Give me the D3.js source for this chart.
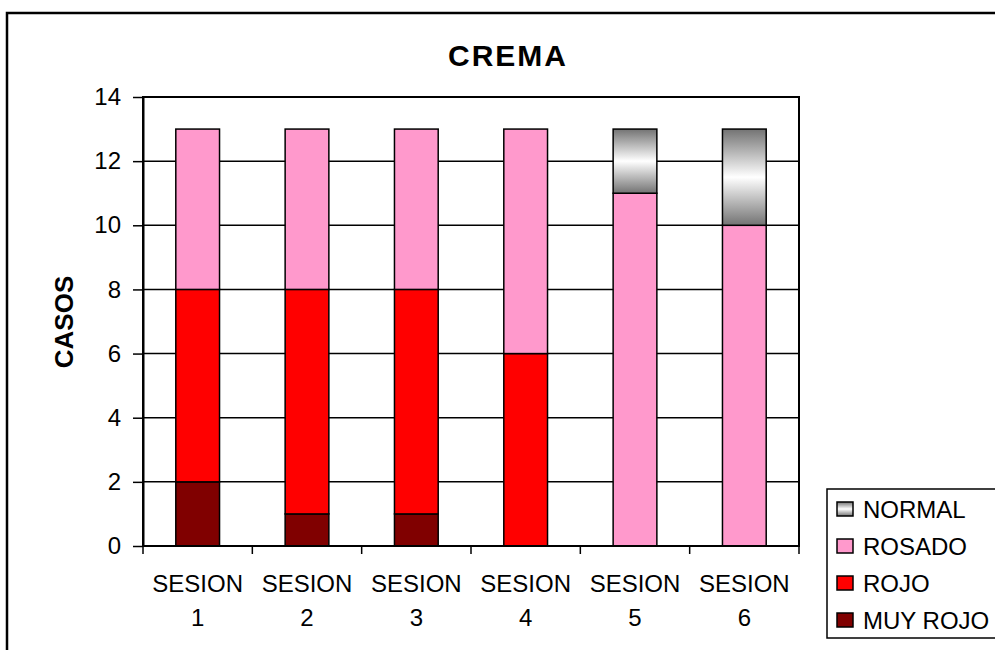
<!DOCTYPE html>
<html><head><meta charset="utf-8">
<script src="https://cdn.jsdelivr.net/npm/d3@7"></script>
<style>body{margin:0;background:#fff}svg{display:block;font-family:Arial,"Liberation Sans",sans-serif}</style>
</head><body>
<script>
const categories = ["SESION 1","SESION 2","SESION 3","SESION 4","SESION 5","SESION 6"];
const seriesNames = ["MUY ROJO","ROJO","ROSADO","NORMAL"];
const muyRojo = [2,1,1,0,0,0];
const rojo = [6,7,7,6,0,0];
const rosado = [5,5,5,7,11,10];
const normal = [0,0,0,0,2,3];
const yTicks = [0,2,4,6,8,10,12,14];
const title = "CREMA";
const yLabel = "CASOS";

const W = 995, H = 650;
const svg = d3.select("body").append("svg").attr("width", W).attr("height", H);
const defs = svg.append("defs");
const grad = defs.append("linearGradient").attr("id","gNormal").attr("x1",0).attr("y1",0).attr("x2",0).attr("y2",1);
grad.append("stop").attr("offset","0%").attr("stop-color","#737373");
grad.append("stop").attr("offset","50%").attr("stop-color","#ffffff");
grad.append("stop").attr("offset","100%").attr("stop-color","#737373");

const fills = {"MUY ROJO":"#800000","ROJO":"#ff0000","ROSADO":"#ff99cc","NORMAL":"url(#gNormal)"};
const seriesVals = {"MUY ROJO":muyRojo,"ROJO":rojo,"ROSADO":rosado,"NORMAL":normal};

// outer chart border
svg.append("rect").attr("x",7).attr("y",13).attr("width",1100).attr("height",800)
  .attr("fill","none").attr("stroke","#000").attr("stroke-width",2.5);

const m = {left:143, top:97, right:799, bottom:546};
const x = d3.scaleBand().domain(categories).range([m.left,m.right]).paddingInner(0.6).paddingOuter(0.3);
const xOuter = d3.scaleBand().domain(categories).range([m.left,m.right]);
const y = d3.scaleLinear().domain([0,14]).range([m.bottom,m.top]);

// gridlines
svg.append("g").selectAll("line").data(yTicks.filter(d=>d>0)).join("line")
  .attr("x1",m.left).attr("x2",m.right).attr("y1",d=>y(d)).attr("y2",d=>y(d))
  .attr("stroke","#000").attr("stroke-width",1.5);

// stacked bars
const table = categories.map((c,i)=>{const o={cat:c}; seriesNames.forEach(s=>o[s]=seriesVals[s][i]); return o;});
const stack = d3.stack().keys(seriesNames)(table);
stack.forEach(layer=>{
  svg.append("g").selectAll("rect").data(layer.filter(d=>d[1]-d[0]>0)).join("rect")
    .attr("x",d=>x(d.data.cat)).attr("width",x.bandwidth())
    .attr("y",d=>y(d[1])).attr("height",d=>y(d[0])-y(d[1]))
    .attr("fill",fills[layer.key]).attr("stroke","#000").attr("stroke-width",1.5);
});

// plot frame
svg.append("rect").attr("x",m.left).attr("y",m.top).attr("width",m.right-m.left).attr("height",m.bottom-m.top)
  .attr("fill","none").attr("stroke","#000").attr("stroke-width",2);

// y axis
const yAxis = svg.append("g").attr("transform",`translate(${m.left},0)`)
  .call(d3.axisLeft(y).tickValues(yTicks).tickSize(10).tickPadding(12).tickSizeOuter(0));
yAxis.select(".domain").attr("stroke-width",2);
yAxis.selectAll(".tick line").attr("stroke-width",1.5);
yAxis.selectAll("text").attr("font-size",24).attr("fill","#000").attr("font-family","Arial, 'Liberation Sans', sans-serif");

// x axis ticks at boundaries
const bounds = categories.map(c=>xOuter(c)).concat([m.right]);
svg.append("g").selectAll("line").data(bounds).join("line")
  .attr("x1",d=>d).attr("x2",d=>d).attr("y1",m.bottom).attr("y2",m.bottom+8)
  .attr("stroke","#000").attr("stroke-width",1.5);
const xl = svg.append("g").selectAll("text").data(categories).join("text")
  .attr("x",c=>xOuter(c)+xOuter.bandwidth()/2).attr("text-anchor","middle")
  .attr("font-size",24).attr("fill","#000");
xl.append("tspan").attr("x",c=>xOuter(c)+xOuter.bandwidth()/2).attr("y",592).text(c=>c.split(" ")[0]);
xl.append("tspan").attr("x",c=>xOuter(c)+xOuter.bandwidth()/2).attr("y",626).text(c=>c.split(" ")[1]);

// title
svg.append("text").attr("x",508).attr("y",66).attr("text-anchor","middle")
  .attr("font-size",30).attr("font-weight","bold").attr("letter-spacing",2).text(title);

// y label
svg.append("text").attr("transform","translate(73,322) rotate(-90)").attr("text-anchor","middle")
  .attr("font-size",26).attr("font-weight","bold").text(yLabel);

// legend
const lg = svg.append("g");
lg.append("rect").attr("x",827).attr("y",489).attr("width",200).attr("height",149)
  .attr("fill","#fff").attr("stroke","#000").attr("stroke-width",1.5);
const legendOrder = seriesNames.slice().reverse();
const li = lg.selectAll("g.item").data(legendOrder).join("g").attr("class","item")
  .attr("transform",(d,i)=>`translate(837,${509+i*37})`);
li.append("rect").attr("x",0).attr("y",-7).attr("width",16).attr("height",14)
  .attr("fill",d=>fills[d]).attr("stroke","#000").attr("stroke-width",1.5);
li.append("text").attr("x",26).attr("y",9).attr("font-size",24).text(d=>d);
</script>
</body></html>
